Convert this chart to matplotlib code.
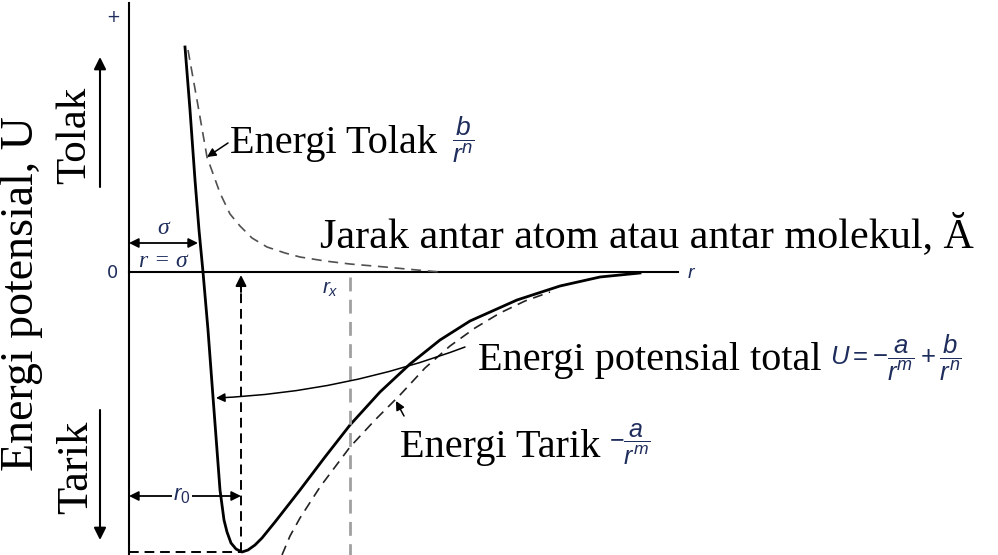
import matplotlib.pyplot as plt
import numpy as np

plt.rcParams['mathtext.fontset'] = 'custom'
plt.rcParams['mathtext.it'] = 'Liberation Sans:italic'
plt.rcParams['mathtext.rm'] = 'Liberation Sans'
plt.rcParams['mathtext.sf'] = 'Liberation Sans'

# points: r (distance) and U (energy), arbitrary units
r_total = [0.56, 0.61, 0.66, 0.70, 0.74, 0.79, 0.84, 0.88, 0.91, 0.95, 0.98,
           1.02, 1.07, 1.13, 1.19, 1.26, 1.33, 1.46, 1.71, 1.96, 2.21, 2.51,
           2.81, 3.11, 3.41, 3.88, 4.31, 4.71, 5.11]
u_total = [2.25, 1.62, 0.92, 0.42, 0.00, -0.58, -1.25, -1.78, -2.18, -2.48,
           -2.60, -2.71, -2.77, -2.80, -2.78, -2.73, -2.66, -2.50, -2.18,
           -1.85, -1.53, -1.20, -0.92, -0.68, -0.49, -0.28, -0.14, -0.05, -0.01]

r_attr = [1.53, 1.61, 1.71, 1.91, 2.21, 2.46, 2.71, 2.96, 3.21, 3.46, 3.71,
          3.96, 4.21]
u_attr = [-2.83, -2.64, -2.46, -2.15, -1.75, -1.48, -1.23, -0.96, -0.74,
          -0.56, -0.41, -0.29, -0.20]

r_rep = [0.59, 0.68, 0.78, 0.91, 1.01, 1.11, 1.23, 1.38, 1.56, 1.71, 1.96,
         2.21, 2.56, 2.88, 3.11]
u_rep = [2.22, 1.72, 1.15, 0.79, 0.58, 0.46, 0.34, 0.25, 0.19, 0.15, 0.11,
         0.08, 0.05, 0.02, 0.00]

sigma = 0.69
r0 = 1.12
rx = 2.21
u_min = -2.80

serif = 'Liberation Serif'
navy = '#1f2d5c'

fig = plt.figure(figsize=(9.98, 5.55), dpi=100)
ax = fig.add_axes([0, 0, 1, 1])
ax.set_xlim(-1.29, 8.69)
ax.set_ylim(-2.83, 2.72)
ax.axis('off')

# axes
ax.plot([0, 0], [-2.83, 2.69], color='black', lw=1.5)
ax.plot([0, 5.49], [0, 0], color='black', lw=1.5)
ax.text(-0.16, 2.55, '+', color=navy, fontsize=12, ha='center', va='center')
ax.text(-0.16, -0.01, '0', color=navy, fontsize=13, ha='center', va='center')
ax.text(5.58, 0.0, '$r$', color=navy, fontsize=14, ha='left', va='center')

# curves
ax.plot(r_total, u_total, color='black', lw=2.0, solid_joinstyle='round')
ax.plot(r_attr, u_attr, color='#222222', lw=1.2, linestyle=(0, (6, 4)))
ax.plot(r_rep, u_rep, color='#505050', lw=1.2, linestyle=(0, (6, 4)))

# r_x guide
ax.plot([rx, rx], [-0.05, -2.83], color='#a0a0a0', lw=2.0, linestyle=(0, (5, 3)))
ax.text(rx - 0.2, -0.17, '$r_x$', color=navy, fontsize=15, ha='center', va='center')

# r0 guides
ax.plot([r0, r0], [u_min, -0.12], color='black', lw=1.4, linestyle=(0, (5, 3)))
ax.annotate('', xy=(r0, -0.03), xytext=(r0, -0.2),
            arrowprops=dict(arrowstyle='-|>', color='black', lw=1.4,
                            mutation_scale=16, shrinkA=0, shrinkB=0))
ax.plot([0, r0], [u_min, u_min], color='black', lw=1.4, linestyle=(0, (5, 3)))

# sigma arrow
ax.annotate('', xy=(sigma, 0.29), xytext=(0, 0.29),
            arrowprops=dict(arrowstyle='<|-|>', color='black', lw=1.3,
                            mutation_scale=14, shrinkA=0, shrinkB=0))
ax.text(0.34, 0.44, 'σ', family=serif, style='italic', color=navy,
        fontsize=17, ha='center', va='center')
ax.text(0.34, 0.11, 'r = σ', family=serif, style='italic', color=navy,
        fontsize=17, ha='center', va='center')

# r0 arrow
ax.annotate('', xy=(r0, -2.24), xytext=(0, -2.24),
            arrowprops=dict(arrowstyle='<|-|>', color='black', lw=1.3,
                            mutation_scale=14, shrinkA=0, shrinkB=0))
ax.text(0.53, -2.24, '$r_0$', color=navy, fontsize=16, ha='center', va='center',
        bbox=dict(facecolor='white', edgecolor='none', pad=1))

# left labels
ax.text(-1.07, -0.22, 'Energi potensial, U', family=serif, fontsize=33,
        rotation=90, ha='center', va='center')
ax.text(-0.54, 1.37, 'Tolak', family=serif, fontsize=31, rotation=90,
        ha='center', va='center')
ax.text(-0.53, -1.95, 'Tarik', family=serif, fontsize=32, rotation=90,
        ha='center', va='center')
ax.annotate('', xy=(-0.29, 2.15), xytext=(-0.29, 0.85),
            arrowprops=dict(arrowstyle='-|>', color='black', lw=1.5,
                            mutation_scale=18, shrinkA=0, shrinkB=0))
ax.annotate('', xy=(-0.29, -2.68), xytext=(-0.29, -1.38),
            arrowprops=dict(arrowstyle='-|>', color='black', lw=1.5,
                            mutation_scale=18, shrinkA=0, shrinkB=0))

# x label
ax.text(1.91, 0.25, 'Jarak antar atom atau antar molekul, Ă', family=serif,
        fontsize=30.3, ha='left', va='baseline')

# curve labels
pointer = dict(arrowstyle='-|>', color='black', lw=1.1, mutation_scale=13,
               shrinkA=0, shrinkB=0)
ax.text(1.01, 1.19, 'Energi Tolak', family=serif, fontsize=29, ha='left',
        va='baseline')
ax.text(3.23, 1.32, r'$\dfrac{b}{r^n}$', color=navy, fontsize=19, ha='left',
        va='center')
ax.annotate('', xy=(0.78, 1.15), xytext=(0.99, 1.29), arrowprops=pointer)

ax.text(3.49, -0.98, 'Energi potensial total', family=serif, fontsize=29,
        ha='left', va='baseline')
ax.text(7.01, -0.86, r'$U = -\dfrac{a}{r^m} + \dfrac{b}{r^n}$', color=navy,
        fontsize=18.5, ha='left', va='center')
ax.annotate('', xy=(0.87, -1.26), xytext=(3.36, -0.75),
            arrowprops=dict(pointer, connectionstyle='arc3,rad=-0.08'))

ax.text(2.71, -1.85, 'Energi Tarik', family=serif, fontsize=29, ha='left',
        va='baseline')
ax.text(4.80, -1.72, r'$-\dfrac{a}{r^m}$', color=navy, fontsize=18, ha='left',
        va='center')
ax.annotate('', xy=(2.67, -1.29), xytext=(2.75, -1.44), arrowprops=pointer)

fig.savefig('out.png', dpi=100)
